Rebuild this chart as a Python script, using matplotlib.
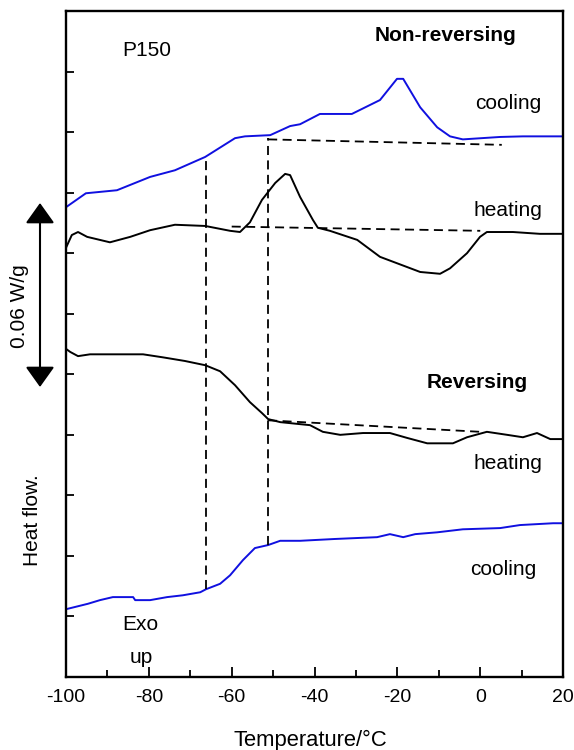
import numpy as np
import matplotlib
matplotlib.use("Agg")
import matplotlib.pyplot as plt
from matplotlib.ticker import MultipleLocator

plt.rcParams['font.family'] = ['Liberation Sans', 'DejaVu Sans']
plt.rcParams['axes.unicode_minus'] = False

# Non-reversing, cooling (blue)
nr_cool_t = [-100, -95.2, -87.7, -79.7, -73.7, -66.4, -59.2, -56.8, -50.7, -45.9, -43.5,
             -38.7, -31.0, -24.2, -20.1, -18.6, -14.5, -10.4, -7.3, -4.2, 4.8, 10.3, 20]
nr_cool_v = [7.76, 7.99, 8.04, 8.26, 8.37, 8.59, 8.90, 8.93, 8.95, 9.10, 9.13,
             9.30, 9.30, 9.53, 9.88, 9.88, 9.41, 9.08, 8.93, 8.88, 8.92, 8.93, 8.93]

# Non-reversing, heating (black)
nr_heat_t = [-100, -98.6, -97.1, -94.9, -89.4, -84.5, -79.7, -73.7, -66.4, -60.4, -58.0,
             -55.6, -52.7, -49.5, -47.1, -45.9, -43.5, -40.4, -39.2, -36.3, -29.7, -24.2,
             -14.5, -9.7, -7.3, -3.2, -0.05, 1.6, 7.9, 14.4, 20]
nr_heat_v = [7.09, 7.30, 7.35, 7.27, 7.18, 7.27, 7.38, 7.47, 7.45, 7.37, 7.35,
             7.51, 7.88, 8.16, 8.31, 8.29, 7.93, 7.55, 7.42, 7.37, 7.22, 6.94,
             6.69, 6.66, 6.75, 7.00, 7.27, 7.35, 7.35, 7.32, 7.32]

# Reversing, heating (black)
rv_heat_t = [-100, -99.0, -97.1, -94.2, -81.4, -76.6, -71.3, -66.4, -62.8, -59.2, -55.6,
             -52.7, -51.2, -48.3, -41.1, -38.0, -33.8, -28.3, -21.8, -17.7, -12.8, -6.6,
             -3.2, 1.6, 6.5, 10.3, 13.7, 16.9, 20]
rv_heat_v = [5.42, 5.37, 5.30, 5.33, 5.33, 5.28, 5.22, 5.15, 5.05, 4.82, 4.54,
             4.36, 4.26, 4.21, 4.16, 4.05, 4.00, 4.03, 4.03, 3.95, 3.86, 3.86,
             3.96, 4.05, 4.00, 3.96, 4.03, 3.93, 3.93]

# Reversing, cooling (blue)
rv_cool_t = [-100, -94.7, -91.8, -88.7, -83.8, -83.3, -79.7, -75.6, -71.8, -67.6, -66.2,
             -62.8, -60.4, -57.3, -54.4, -51.2, -48.3, -43.5, -35.1, -24.9, -21.8, -18.6,
             -15.7, -10.4, -4.2, 4.8, 9.6, 17.6, 20]
rv_cool_v = [1.12, 1.21, 1.27, 1.32, 1.32, 1.27, 1.27, 1.32, 1.35, 1.40, 1.45,
             1.54, 1.68, 1.93, 2.13, 2.18, 2.25, 2.25, 2.28, 2.31, 2.36, 2.31,
             2.36, 2.39, 2.44, 2.46, 2.51, 2.54, 2.54]

# dashed baselines (start, end)
base_nr_cool = ([-51.2, 5.2], [8.88, 8.79])
base_nr_heat = ([-60.0, 0.0], [7.44, 7.37])
base_rv_heat = ([-51.2, 0.0], [4.24, 4.05])

# vertical dashed markers: temperature, bottom, top
tg_lines_t = [-66.2, -51.2]
tg_lines_lo = [1.45, 2.18]
tg_lines_hi = [8.59, 8.90]

fig = plt.figure(figsize=(5.74, 7.5), dpi=100)
ax = fig.add_axes([0.115, 0.0973, 0.866, 0.888])

blue = '#1010e0'
ax.plot(nr_cool_t, nr_cool_v, color=blue, lw=1.4)
ax.plot(nr_heat_t, nr_heat_v, color='black', lw=1.4)
ax.plot(rv_heat_t, rv_heat_v, color='black', lw=1.4)
ax.plot(rv_cool_t, rv_cool_v, color=blue, lw=1.4)

for bx, by in (base_nr_cool, base_nr_heat, base_rv_heat):
    ax.plot(bx, by, color='black', lw=1.3, ls=(0, (5, 3)))
for t, lo, hi in zip(tg_lines_t, tg_lines_lo, tg_lines_hi):
    ax.plot([t, t], [lo, hi], color='black', lw=1.3, ls=(0, (5, 3)))

ax.set_xlim(-100, 20)
ax.set_ylim(0, 11)
ax.xaxis.set_major_locator(MultipleLocator(20))
ax.xaxis.set_minor_locator(MultipleLocator(10))
ax.set_yticks(np.arange(1, 11))
ax.set_yticklabels([])
ax.tick_params(axis='both', which='both', direction='in', width=1.3)
ax.tick_params(axis='x', which='major', length=7, labelsize=14, pad=8.5)
ax.tick_params(axis='x', which='minor', length=5)
ax.tick_params(axis='y', length=6)
for s in ax.spines.values():
    s.set_linewidth(1.7)

ax.set_xlabel('Temperature/°C', fontsize=15.8)
ax.xaxis.set_label_coords(0.491, -0.079)

# annotations
fs = 15
ax.text(-80.4, 10.35, 'P150', fontsize=fs, ha='center', va='center')
ax.text(-8.3, 10.6, 'Non-reversing', fontsize=fs, fontweight='bold', ha='center', va='center')
ax.text(6.7, 9.48, 'cooling', fontsize=fs, ha='center', va='center')
ax.text(6.7, 7.71, 'heating', fontsize=fs, ha='center', va='center')
ax.text(-0.8, 4.86, 'Reversing', fontsize=fs, fontweight='bold', ha='center', va='center')
ax.text(6.7, 3.53, 'heating', fontsize=fs, ha='center', va='center')
ax.text(5.5, 1.78, 'cooling', fontsize=fs, ha='center', va='center')
ax.text(-82.1, 0.875, 'Exo', fontsize=fs, ha='center', va='center')
ax.text(-81.9, 0.33, 'up', fontsize=fs, ha='center', va='center')

# scale bar arrow and side labels
ax.annotate('', xy=(40 / 574, 1 - 203 / 750), xytext=(40 / 574, 1 - 387 / 750),
            xycoords='figure fraction', textcoords='figure fraction',
            arrowprops=dict(arrowstyle='<|-|>,head_length=0.7,head_width=0.5',
                            color='black', lw=1.5, mutation_scale=18,
                            shrinkA=0, shrinkB=0))
fig.text(19.5 / 574, 1 - 306 / 750, '0.06 W/g', rotation=90, fontsize=fs,
         ha='center', va='center')
fig.text(33 / 574, 1 - 520 / 750, 'Heat flow.', rotation=90, fontsize=fs,
         ha='center', va='center')

fig.savefig('out.png', dpi=100)
